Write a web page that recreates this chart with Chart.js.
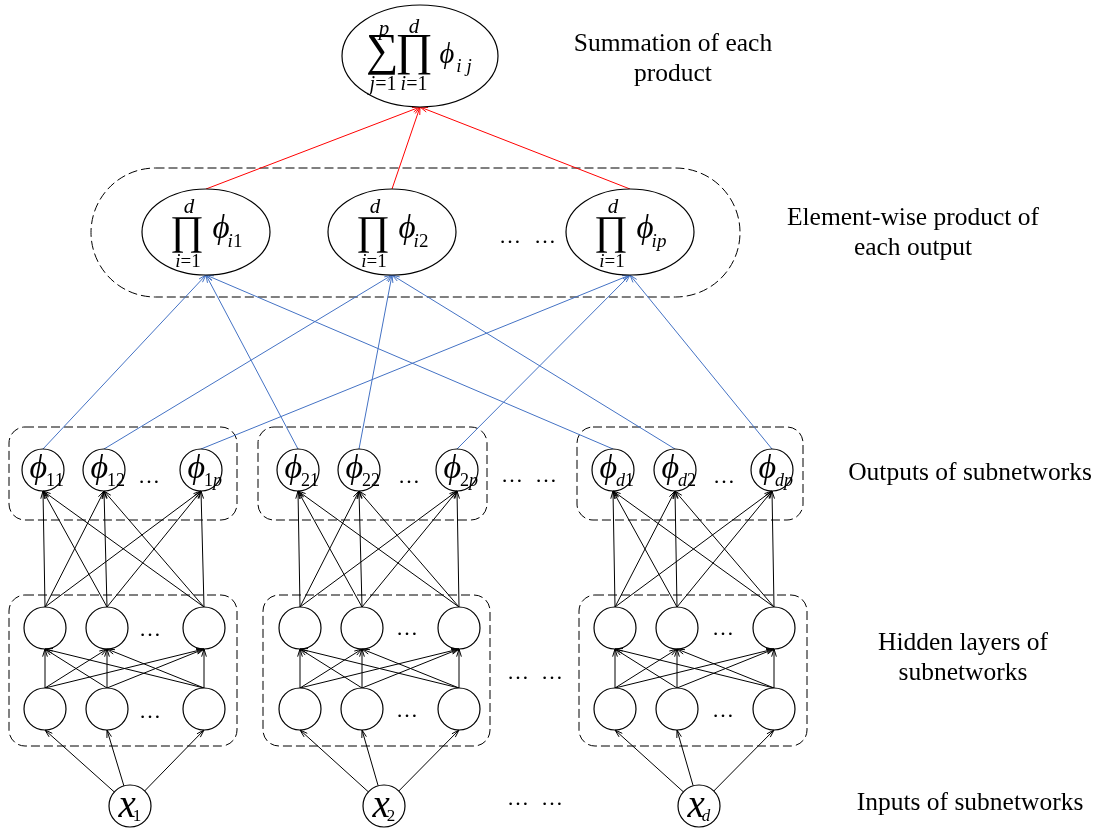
<!DOCTYPE html>
<html>
<head>
<meta charset="utf-8">
<script src="https://cdn.jsdelivr.net/npm/chart.js@4.4.0/dist/chart.umd.min.js"></script>
<style>
  html, body { margin: 0; padding: 0; background: #fff; }
  #wrap { width: 1101px; height: 830px; }
</style>
</head>
<body>
<div id="wrap"><canvas id="net" width="1101" height="830"></canvas></div>
<script>
// node centres (units = reference pixels)
const outX   = [[43, 104, 201], [298, 359, 457], [613, 675, 772]];
const hidX   = [[45, 107, 204], [300, 362, 459], [615, 677, 774]];
const inX    = [130, 384, 699];
const rowY   = { out: 470, hidTop: 628, hidBot: 709, input: 806 };
const prodX  = [206, 392, 630];
const prodY  = 232;
const sumPos = [420, 56];

// labels
const outSub  = [['11', '12', '1p'], ['21', '22', '2p'], ['d1', 'd2', 'dp']];
const inSub   = ['1', '2', 'd'];
const prodSub = ['i1', 'i2', 'ip'];
const sideLabels = [
  ['Summation of each', 'product'],
  ['Element-wise product of', 'each output'],
  ['Outputs of subnetworks'],
  ['Hidden layers of', 'subnetworks'],
  ['Inputs of subnetworks']
];

// layout (not data)
const R = 21, PRX = 64, PRY = 43, SRX = 78, SRY = 51;
const SERIF = '"Liberation Serif", "Times New Roman", serif';
const sideAt = [[673, 51], [913, 225], [970, 480], [963, 650], [970, 810]];
const outBoxes = [[9, 427, 237, 520], [258, 427, 487, 520], [577, 427, 803, 520]];
const hidBoxes = [[9, 595, 237, 746], [263, 595, 490, 746], [579, 595, 807, 746]];
const pill = [91, 168, 740, 297];
const dots = [
  [149, 481], [409, 481], [724, 481], [512, 480], [546, 480],
  [150, 634], [407, 633], [723, 633], [150, 716], [407, 715], [723, 715],
  [518, 677], [552, 677], [518, 803], [552, 803], [510, 241], [545, 241]
];

const BLACK = '#000000', BLUE = '#4472c4', RED = '#ff0000';

// edges built from the node arrays
const edges = [];
function edge(a, b, color) { edges.push({ a, b, color }); }

for (let g = 0; g < 3; g++) {
  for (let j = 0; j < 3; j++) {
    const tx = hidX[g][j], ty = rowY.hidBot + R;
    const dx = tx - inX[g], dy = ty - rowY.input, len = Math.hypot(dx, dy);
    edge([inX[g] + dx / len * R, rowY.input + dy / len * R], [tx, ty], BLACK);
  }
  for (let i = 0; i < 3; i++) {
    for (let j = 0; j < 3; j++) {
      edge([hidX[g][i], rowY.hidBot - R], [hidX[g][j], rowY.hidTop + R], BLACK);
      edge([hidX[g][i], rowY.hidTop - R], [outX[g][j], rowY.out + R], BLACK);
    }
  }
  for (let j = 0; j < 3; j++) {
    edge([outX[g][j], rowY.out - R], [prodX[j], prodY + PRY], BLUE);
  }
}
for (let j = 0; j < 3; j++) {
  edge([prodX[j], prodY - PRY], [sumPos[0], sumPos[1] + SRY], RED);
}

const nodes = [];
for (let g = 0; g < 3; g++) {
  outX[g].forEach(x => nodes.push({ x, y: rowY.out }));
  hidX[g].forEach(x => nodes.push({ x, y: rowY.hidTop }));
  hidX[g].forEach(x => nodes.push({ x, y: rowY.hidBot }));
  nodes.push({ x: inX[g], y: rowY.input });
}

// ---- text helpers
function glyph(ctx, txt, italic, cx, cy, h) {
  const st = italic ? 'italic ' : '';
  ctx.font = st + '100px ' + SERIF;
  const m = ctx.measureText(txt);
  const s = 100 * h / (m.actualBoundingBoxAscent + m.actualBoundingBoxDescent);
  ctx.font = st + s.toFixed(2) + 'px ' + SERIF;
  const m2 = ctx.measureText(txt);
  ctx.textAlign = 'left';
  ctx.textBaseline = 'alphabetic';
  ctx.fillText(txt,
    cx - (m2.actualBoundingBoxRight - m2.actualBoundingBoxLeft) / 2,
    cy + (m2.actualBoundingBoxAscent - m2.actualBoundingBoxDescent) / 2);
}

function mixed(ctx, str, cx, cy, size) {
  // letters italic, digits and signs upright
  const parts = str.split('').map(ch => ({
    ch, font: (/[a-z]/.test(ch) ? 'italic ' : '') + size + 'px ' + SERIF
  }));
  let w = 0;
  parts.forEach(p => { ctx.font = p.font; p.w = ctx.measureText(p.ch).width; w += p.w; });
  let x = cx - w / 2;
  ctx.textAlign = 'left';
  ctx.textBaseline = 'alphabetic';
  parts.forEach(p => { ctx.font = p.font; ctx.fillText(p.ch, x, cy + size * 0.33); x += p.w; });
}

function dashedRound(ctx, x0, y0, x1, y1, r) {
  ctx.beginPath();
  ctx.roundRect(x0, y0, x1 - x0, y1 - y0, r);
  ctx.stroke();
}

const diagram = {
  id: 'diagram',
  beforeDatasetsDraw(chart) {
    const { ctx, scales: { x: xs, y: ys } } = chart;
    const px = v => xs.getPixelForValue(v), py = v => ys.getPixelForValue(v);
    ctx.save();
    ctx.strokeStyle = '#000';
    ctx.lineWidth = 1;
    ctx.setLineDash([9, 4]);
    outBoxes.concat(hidBoxes).forEach(b => dashedRound(ctx, px(b[0]), py(b[1]), px(b[2]), py(b[3]), 16));
    dashedRound(ctx, px(pill[0]), py(pill[1]), px(pill[2]), py(pill[3]), (py(pill[3]) - py(pill[1])) / 2);
    ctx.restore();
  },
  afterDatasetsDraw(chart) {
    const { ctx, scales: { x: xs, y: ys } } = chart;
    const px = v => xs.getPixelForValue(v), py = v => ys.getPixelForValue(v);
    ctx.save();

    // arrow heads
    chart.data.datasets.forEach((ds, i) => {
      if (!ds.arrow) return;
      const pts = chart.getDatasetMeta(i).data;
      const a = pts[0], b = pts[1];
      const ang = Math.atan2(b.y - a.y, b.x - a.x), L = 8, w = 0.3;
      ctx.strokeStyle = ds.borderColor;
      ctx.lineWidth = 1;
      ctx.beginPath();
      ctx.moveTo(b.x - L * Math.cos(ang - w), b.y - L * Math.sin(ang - w));
      ctx.lineTo(b.x, b.y);
      ctx.lineTo(b.x - L * Math.cos(ang + w), b.y - L * Math.sin(ang + w));
      ctx.stroke();
    });

    // ellipses
    ctx.strokeStyle = '#000';
    ctx.lineWidth = 1.2;
    ctx.fillStyle = '#fff';
    const ell = (cx, cy, rx, ry) => {
      ctx.beginPath();
      ctx.ellipse(px(cx), py(cy), px(cx + rx) - px(cx), py(cy + ry) - py(cy), 0, 0, Math.PI * 2);
      ctx.fill();
      ctx.stroke();
    };
    prodX.forEach(x => ell(x, prodY, PRX, PRY));
    ell(sumPos[0], sumPos[1], SRX, SRY);

    ctx.fillStyle = '#000';
    // summation ellipse content
    const sx = px(sumPos[0]), sy = py(sumPos[1]);
    glyph(ctx, '\u2211', false, sx - 38, sy - 1, 40);
    glyph(ctx, '\u220F', false, sx - 6, sy - 1, 40);
    glyph(ctx, '\u03D5', true, sx + 27, sy - 1, 26);
    mixed(ctx, 'i j', sx + 44, sy + 10, 19);
    mixed(ctx, 'p', sx - 36, sy - 28, 21);
    mixed(ctx, 'd', sx - 6, sy - 30, 21);
    mixed(ctx, 'j=1', sx - 37, sy + 27, 20);
    mixed(ctx, 'i=1', sx - 6, sy + 27, 20);

    // product ellipses content
    prodX.forEach((x, j) => {
      const cx = px(x), cy = py(prodY);
      glyph(ctx, '\u220F', false, cx - 19, cy + 2.5, 36);
      mixed(ctx, 'd', cx - 17, cy - 26, 21);
      mixed(ctx, 'i=1', cx - 18, cy + 29, 19);
      glyph(ctx, '\u03D5', true, cx + 15, cy - 3, 30);
      mixed(ctx, prodSub[j], cx + 29, cy + 9, 19);
    });

    // circle labels
    for (let g = 0; g < 3; g++) {
      outX[g].forEach((x, j) => {
        const cx = px(x), cy = py(rowY.out);
        glyph(ctx, '\u03D5', true, cx - 5, cy - 1, 31);
        mixed(ctx, outSub[g][j], cx + 12, cy + 10, 18);
      });
      const ix = px(inX[g]), iy = py(rowY.input);
      glyph(ctx, 'x', true, ix - 3, iy + 1, 18);
      mixed(ctx, inSub[g], ix + 7, iy + 9, 17);
    }

    // ellipsis marks
    ctx.font = '22px ' + SERIF;
    ctx.textAlign = 'center';
    ctx.textBaseline = 'alphabetic';
    dots.forEach(d => ctx.fillText('\u2026', px(d[0]), py(d[1]) + 2));

    // side labels
    ctx.font = '25.5px ' + SERIF;
    sideLabels.forEach((lines, k) => {
      lines.forEach((t, n) => ctx.fillText(t, px(sideAt[k][0]), py(sideAt[k][1]) + n * 30));
    });
    ctx.restore();
  }
};

const datasets = edges.map(e => ({
  data: [{ x: e.a[0], y: e.a[1] }, { x: e.b[0], y: e.b[1] }],
  showLine: true,
  borderColor: e.color,
  borderWidth: 1,
  pointRadius: 0,
  arrow: true,
  clip: false,
  order: 2
}));
datasets.push({
  data: nodes,
  pointRadius: R,
  pointStyle: 'circle',
  pointBackgroundColor: '#fff',
  pointBorderColor: '#000',
  pointBorderWidth: 1.2,
  clip: false,
  order: 1
});

new Chart(document.getElementById('net'), {
  type: 'scatter',
  data: { datasets },
  options: {
    responsive: false,
    animation: false,
    events: [],
    layout: { padding: 0, autoPadding: false },
    plugins: { legend: { display: false }, tooltip: { enabled: false } },
    scales: {
      x: { type: 'linear', min: 0, max: 1101, display: false },
      y: { type: 'linear', min: 0, max: 830, reverse: true, display: false }
    }
  },
  plugins: [diagram]
});
</script>
</body>
</html>
